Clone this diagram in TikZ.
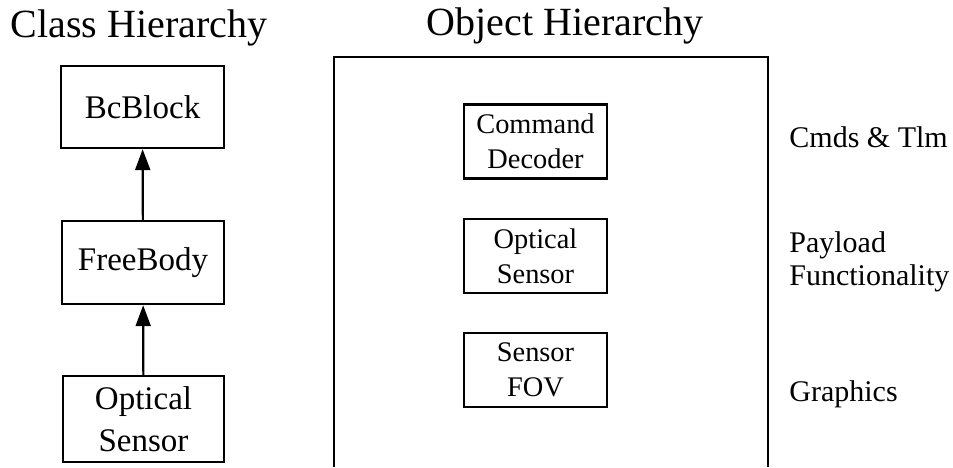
\documentclass[tikz,border=0pt]{standalone}
\usepackage{fontspec}
\setmainfont{Liberation Serif}
\usetikzlibrary{arrows,arrows.meta,positioning}

\begin{document}
\begin{tikzpicture}[x=0.5pt,y=-0.5pt,
  title/.style={font=\fontsize{20}{24}\selectfont,anchor=base},
  cls/.style={draw,line width=1.2pt,inner sep=0pt,align=center,font=\fontsize{16.5}{21}\selectfont},
  obj/.style={draw,line width=1.1pt,inner sep=0pt,align=center,minimum width=71.5pt,minimum height=37pt,font=\fontsize{14.2}{17.5}\selectfont},
  role/.style={anchor=west,inner sep=0pt,align=left,font=\fontsize{15}{16.5}\selectfont},
  inherit/.style={-{Triangle[width=7.5pt,length=10.5pt]},line width=1.1pt}]

\useasboundingbox (0,0) rectangle (953,467);

\node[title] (classes) at (139,37){Class Hierarchy};
\node[title] (objects) at (565,35){Object Hierarchy};

\node[cls,minimum width=81.5pt,minimum height=41pt] (block) at (142.5,107){BcBlock};
\node[cls,minimum width=81pt,minimum height=41.5pt] (body) at (143,262.5){FreeBody};
\node[cls,minimum width=80.5pt,minimum height=43pt] (sensor) at (143.5,419){Optical\\Sensor};
\draw[inherit] (body) -- (block);
\draw[inherit] (sensor) -- (body);

\draw[line width=1pt] (334,467) |- (768,57) -- (768,467);

\node[obj] (decoder) at (535.5,141.5){Command\\Decoder};
\node[obj] (optical) at (535.5,256){Optical\\Sensor};
\node[obj] (fov) at (535.5,370){Sensor\\FOV};

\node[role] (cmds) at (789,137){Cmds \& Tlm};
\node[role] (payload) at (789,262){Payload\\Functionality};
\node[role] (graphics) at (789,394){Graphics};

\end{tikzpicture}
\end{document}
